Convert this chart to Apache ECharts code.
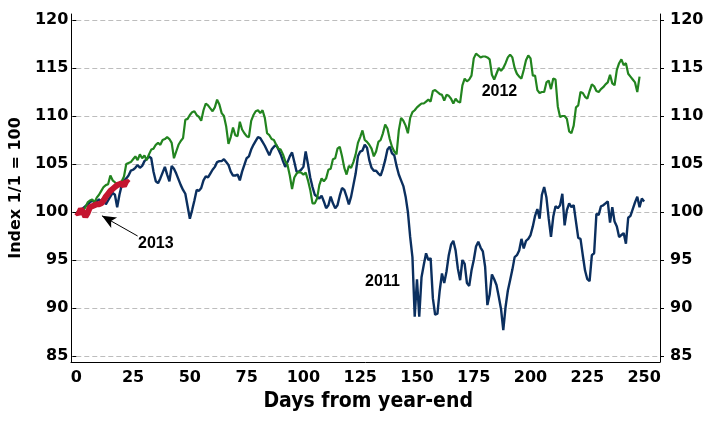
<!DOCTYPE html>
<html><head><meta charset="utf-8">
<script src="https://cdn.jsdelivr.net/npm/echarts@6/dist/echarts.min.js"></script>
<style>html,body{margin:0;padding:0;background:#fff}#c{width:710px;height:424px}</style>
</head><body><div id="c"></div>
<script>
// Index values by trading day from year-end (index = day)
const y2011 = [
100.0,99.9,100.2,100.4,100.6,100.8,101.0,101.2,101.0,101.1,101.3,101.1,101.5,100.8,101.2,101.6,102.0,101.8,100.5,101.8,
102.8,103.3,103.5,103.8,104.3,104.4,104.6,104.9,104.6,104.8,105.3,105.5,105.8,105.6,104.2,103.2,103.0,103.5,104.1,104.7,
103.9,103.2,104.8,104.5,104.0,103.4,102.8,102.3,101.9,100.6,99.3,
100.2,101.2,102.3,102.2,102.5,103.3,103.7,103.6,104.0,104.4,104.7,105.2,105.3,105.3,105.5,105.2,104.9,104.2,103.8,103.8,
103.9,103.3,104.2,104.9,105.6,105.8,106.5,107.0,107.4,107.8,107.7,107.3,106.9,106.4,105.9,
106.5,106.8,107.0,106.5,106.0,105.3,104.7,105.2,105.8,106.2,105.2,104.2,104.2,104.4,104.7,106.3,105.0,103.6,102.6,101.8,
101.6,101.4,101.7,101.1,100.4,100.7,101.6,100.9,100.4,100.7,101.7,102.5,102.3,101.6,100.8,101.6,102.8,104.0,105.8,106.3,
106.4,107.0,106.7,105.4,104.6,104.3,104.3,104.0,103.8,104.5,105.4,106.5,106.8,106.1,105.9,104.8,103.9,103.3,102.7,101.6,
100.0,97.4,95.3,89.1,93.0,89.1,93.2,94.5,95.7,95.0,95.2,91.0,89.3,89.4,91.8,93.6,92.6,93.8,95.5,96.6,
97.0,96.0,94.1,92.9,95.0,94.6,92.6,92.3,93.9,95.0,96.4,96.9,96.3,95.9,94.3,90.3,91.4,93.5,93.0,92.4,
91.2,89.9,87.7,90.1,91.8,92.9,94.0,95.3,95.5,96.0,97.2,96.2,97.0,97.2,97.6,98.5,99.6,100.3,99.3,101.8,
102.6,101.5,99.3,97.4,99.5,100.6,100.4,100.7,101.9,98.6,100.2,100.9,100.5,100.7,99.0,97.3,97.2,95.5,93.9,93.0,
92.8,95.5,95.7,99.8,99.7,100.6,100.7,100.9,101.1,98.9,100.5,99.0,98.5,97.4,97.6,97.8,96.7,99.4,99.6,100.3,
101.0,101.6,100.5,101.4,101.1
];
const y2012 = [
100.0,99.8,100.2,100.1,100.5,101.0,101.2,101.3,101.0,101.5,101.8,102.2,102.6,102.8,102.9,103.8,103.3,103.1,102.9,102.8,
103.2,103.7,105.0,105.1,105.2,105.5,105.8,105.4,106.0,105.6,105.9,105.4,106.0,106.5,106.6,107.0,107.2,107.0,107.5,107.6,
107.8,107.6,107.2,
105.6,106.3,107.0,107.4,107.7,109.6,109.7,110.1,110.4,110.5,110.1,109.9,109.5,110.6,111.3,111.1,110.8,110.5,110.9,111.7,
111.2,110.3,110.0,108.9,107.1,107.8,108.8,108.0,107.9,109.4,108.6,108.2,107.9,107.8,109.5,110.1,110.5,110.6,110.3,110.6,
109.8,108.2,
108.0,107.6,107.5,107.0,106.6,106.5,106.0,105.3,104.9,103.8,102.4,103.6,104.0,104.2,104.1,103.9,104.1,103.3,102.3,100.9,
100.9,101.4,102.8,103.5,103.2,103.5,104.4,104.5,105.5,105.6,106.6,106.8,105.8,104.6,103.9,104.8,104.6,105.2,106.0,107.2,
107.8,108.5,
107.5,107.3,107.0,106.6,105.8,106.3,107.3,107.5,108.2,109.1,108.7,107.6,106.8,106.3,106.0,108.5,109.8,109.5,109.0,108.2,
109.8,110.4,110.6,110.9,111.1,111.3,111.3,111.5,111.7,111.5,112.6,112.7,112.5,112.3,112.2,111.6,112.2,112.1,111.8,111.3,
111.8,
111.5,111.4,113.2,113.9,113.6,113.8,114.2,116.0,116.5,116.3,116.1,116.2,116.2,116.1,115.9,114.3,113.8,114.4,115.0,114.7,
115.0,115.5,116.1,116.4,116.1,115.0,114.4,114.1,113.9,114.8,115.8,116.3,116.0,114.2,114.2,112.7,112.4,112.5,112.5,113.5,
113.7,112.8,113.9,113.8,111.0,109.9,110.0,110.0,109.7,108.4,108.2,109.0,110.9,111.1,112.5,112.4,112.0,111.8,112.6,113.3,
113.1,112.6,112.5,112.8,113.0,113.3,113.5,114.3,113.4,113.2,114.8,115.5,115.9,115.3,115.5,114.4,114.1,113.8,113.5,112.5,
114.1
];
const y2013 = [100.0,99.8,100.3,100.0,99.5,99.9,100.5,100.6,100.7,100.8,100.8,100.9,101.2,101.6,101.9,102.2,102.4,102.6,102.8,102.9,103.0,102.7,103.2,103.0];
const seriesNames = ['2011','2012','2013'];
const yTickMin = 85, yTickMax = 120, yTickStep = 5;
const xTickMin = 0, xTickStep = 25, xAxisMax = 257;
const xTitle = 'Days from year-end';
const yTitle = 'Index 1/1 = 100';
// annotation anchors in data coordinates [day, index]
const label2011 = [134.8, 92.7];
const label2012 = [186.3, 112.5];
const label2013 = [35.0, 96.7];
const arrowFrom = [27.0, 97.5];
const arrowTo = [11.3, 99.6];

const toPts = arr => arr.map((v, i) => [i, v]);
const tickFont = {fontFamily: 'DejaVu Sans', fontWeight: 'bold', fontSize: 16, color: '#000'};
const annFont = {fontFamily: 'Liberation Sans', fontWeight: 'bold', fontSize: 16, color: '#000'};
const chart = echarts.init(document.getElementById('c'), null, {renderer: 'canvas'});
chart.setOption({
  animation: false,
  backgroundColor: '#fff',
  grid: [
    {left: 71, right: 50, top: 20, bottom: 68},
    {left: 71, right: 50, top: 14, bottom: 62}
  ],
  xAxis: [
    {gridIndex: 0, type: 'value', min: xTickMin, max: xAxisMax, interval: xTickStep, offset: 6,
     axisLine: {show: false}, axisTick: {show: false}, splitLine: {show: false},
     axisLabel: Object.assign({margin: 8, showMaxLabel: false}, tickFont),
     name: xTitle, nameLocation: 'middle', nameGap: 28,
     nameTextStyle: {fontFamily: 'DejaVu Sans Condensed', fontWeight: 'bold', fontSize: 21, color: '#000'}},
    {gridIndex: 1, type: 'value', min: 0, max: 1, axisLine: {show: true, lineStyle: {color: '#000', width: 1}},
     axisTick: {show: false}, axisLabel: {show: false}, splitLine: {show: false}}
  ],
  yAxis: [
    {gridIndex: 0, type: 'value', min: yTickMin, max: yTickMax, interval: yTickStep, position: 'left',
     axisLine: {show: false}, axisTick: {show: true, length: 4, lineStyle: {color: '#000'}},
     axisLabel: Object.assign({margin: 8}, tickFont),
     splitLine: {show: true, lineStyle: {color: '#bdbdbd', type: [5, 3], width: 1}},
     name: yTitle, nameLocation: 'middle', nameGap: 48, nameRotate: 90,
     nameTextStyle: {fontFamily: 'DejaVu Sans', fontWeight: 'bold', fontSize: 16, color: '#000'}},
    {gridIndex: 0, type: 'value', min: yTickMin, max: yTickMax, interval: yTickStep, position: 'right',
     axisLine: {show: false}, axisTick: {show: true, length: 4, lineStyle: {color: '#000'}},
     axisLabel: Object.assign({margin: 10}, tickFont), splitLine: {show: false}},
    {gridIndex: 1, type: 'value', min: 0, max: 1, position: 'left',
     axisLine: {show: true, lineStyle: {color: '#000', width: 1}}, axisTick: {show: false}, axisLabel: {show: false}, splitLine: {show: false}},
    {gridIndex: 1, type: 'value', min: 0, max: 1, position: 'right',
     axisLine: {show: true, lineStyle: {color: '#000', width: 1}}, axisTick: {show: false}, axisLabel: {show: false}, splitLine: {show: false}}
  ],
  series: [
    {name: seriesNames[0], type: 'line', xAxisIndex: 0, yAxisIndex: 0, data: toPts(y2011), showSymbol: false, z: 3,
     lineStyle: {color: '#0b2f5f', width: 2.4}, itemStyle: {color: '#0b2f5f'},
     markPoint: {silent: true, symbol: 'rect', symbolSize: 1, itemStyle: {color: 'rgba(0,0,0,0)'},
       label: Object.assign({show: true, position: 'inside'}, annFont),
       data: [
         {coord: label2011, label: {formatter: seriesNames[0]}},
         {coord: label2012, label: {formatter: seriesNames[1]}},
         {coord: label2013, label: {formatter: seriesNames[2]}}
       ]}},
    {name: seriesNames[1], type: 'line', xAxisIndex: 0, yAxisIndex: 0, data: toPts(y2012), showSymbol: false, z: 4,
     lineStyle: {color: '#22841f', width: 2.2}, itemStyle: {color: '#22841f'}},
    {name: seriesNames[2], type: 'line', xAxisIndex: 0, yAxisIndex: 0, data: toPts(y2013), showSymbol: false, z: 5,
     lineStyle: {color: '#c4152f', width: 6}, itemStyle: {color: '#c4152f'},
     markLine: {silent: true, symbol: ['none', 'arrow'], symbolSize: [9, 14],
       lineStyle: {color: '#000', width: 1, type: 'solid'}, label: {show: false},
       data: [[{coord: arrowFrom}, {coord: arrowTo}]]}}
  ]
});
</script></body></html>
